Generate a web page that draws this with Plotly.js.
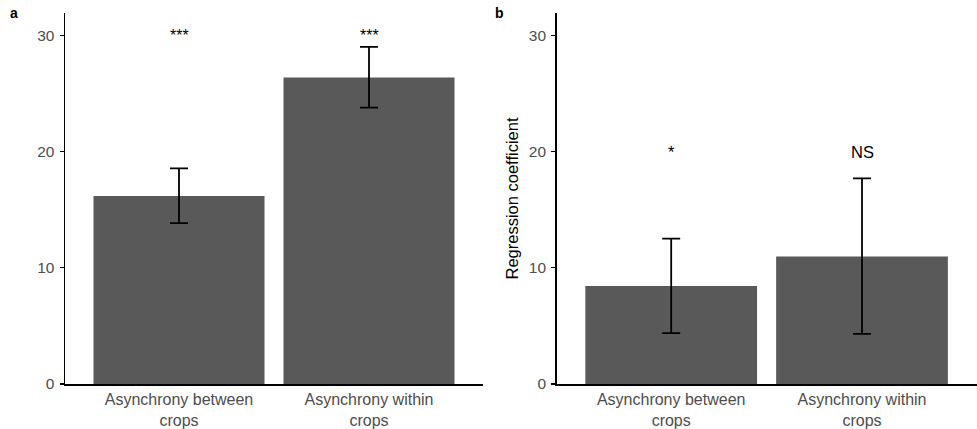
<!DOCTYPE html>
<html>
<head>
<meta charset="utf-8">
<script src="https://cdn.plot.ly/plotly-3.0.1.min.js"></script>
<style>html,body{margin:0;padding:0;background:#fff;}#chart{width:977px;height:429px;}</style>
</head>
<body>
<div id="chart"></div>
<script>
// Data
const categories = ["Asynchrony between<br>crops", "Asynchrony within<br>crops"];
const panelAValues = [16.2, 26.4];
const panelALower = [13.85, 23.8];
const panelAUpper = [18.57, 29.03];
const panelALabels = ["***", "***"];
const panelALabelY = [30, 30];

const panelBValues = [8.45, 10.97];
const panelBLower = [4.38, 4.32];
const panelBUpper = [12.52, 17.71];
const panelBLabels = ["*", "NS"];
const panelBLabelY = [20, 20];

const yTicks = [0, 10, 20, 30];

function errPlus(v, up) { return v.map((d, i) => up[i] - d); }
function errMinus(v, lo) { return v.map((d, i) => d - lo[i]); }

const barColor = "#595959";
const errStyle = { color: "#000", thickness: 1.8, width: 9 };

const traces = [
  {
    type: "bar", x: categories, y: panelAValues, xaxis: "x", yaxis: "y",
    marker: { color: barColor, line: { width: 0 } }, width: 0.9,
    error_y: Object.assign({ type: "data", symmetric: false,
      array: errPlus(panelAValues, panelAUpper),
      arrayminus: errMinus(panelAValues, panelALower) }, errStyle),
    hoverinfo: "skip", showlegend: false
  },
  {
    type: "bar", x: categories, y: panelBValues, xaxis: "x2", yaxis: "y2",
    marker: { color: barColor, line: { width: 0 } }, width: 0.9,
    error_y: Object.assign({ type: "data", symmetric: false,
      array: errPlus(panelBValues, panelBUpper),
      arrayminus: errMinus(panelBValues, panelBLower) }, errStyle),
    hoverinfo: "skip", showlegend: false
  }
];

const annotations = [];
categories.forEach((c, i) => {
  annotations.push({ x: c, y: panelALabelY[i], xref: "x", yref: "y", text: panelALabels[i],
    showarrow: false, font: { size: 16, color: "#000" }, yanchor: "middle" });
  annotations.push({ x: c, y: panelBLabelY[i], xref: "x2", yref: "y2", text: panelBLabels[i],
    showarrow: false, font: { size: 16.5, color: "#000" }, yanchor: "middle" });
});
annotations.push({ x: 0.008, y: 1.0, xref: "paper", yref: "paper", text: "<b>a</b>", showarrow: false,
  xanchor: "left", yanchor: "middle", font: { size: 14, color: "#000" }, yshift: 0 });
annotations.push({ x: 0.505, y: 1.0, xref: "paper", yref: "paper", text: "<b>b</b>", showarrow: false,
  xanchor: "left", yanchor: "middle", font: { size: 14, color: "#000" }, yshift: 0 });

const xCommon = {
  type: "category", range: [-0.6, 1.6], showline: true, linecolor: "#000", linewidth: 1.5,
  ticks: "", showgrid: false, zeroline: false, fixedrange: true,
  tickfont: { size: 16, color: "#4d4d4d" }
};
const yCommon = {
  range: [0, 31.95], tickvals: yTicks, ticktext: yTicks.map(String),
  showline: true, linecolor: "#000", linewidth: 1.5, ticks: "outside", ticklen: 4,
  tickcolor: "#000", tickwidth: 1.2, showgrid: false, zeroline: false, fixedrange: true,
  tickfont: { size: 15.5, color: "#4d4d4d" }, ticklabelstandoff: 2
};

const layout = {
  width: 977, height: 429,
  margin: { l: 0, r: 0, t: 13, b: 45 },
  paper_bgcolor: "#fff", plot_bgcolor: "#fff",
  font: { family: "Liberation Sans, Arial, sans-serif" },
  bargap: 0.1,
  xaxis: Object.assign({}, xCommon, { domain: [65 / 977, 483 / 977], anchor: "y" }),
  yaxis: Object.assign({}, yCommon, { domain: [0, 1], anchor: "x" }),
  xaxis2: Object.assign({}, xCommon, { domain: [556.7 / 977, 976.5 / 977], anchor: "y2" }),
  yaxis2: Object.assign({}, yCommon, { domain: [0, 1], anchor: "x2",
    title: { text: "Regression coefficient", font: { size: 16.5, color: "#000" }, standoff: 6 } }),
  annotations: annotations
};

Plotly.newPlot("chart", traces, layout, { displayModeBar: false, staticPlot: true });
</script>
</body>
</html>
